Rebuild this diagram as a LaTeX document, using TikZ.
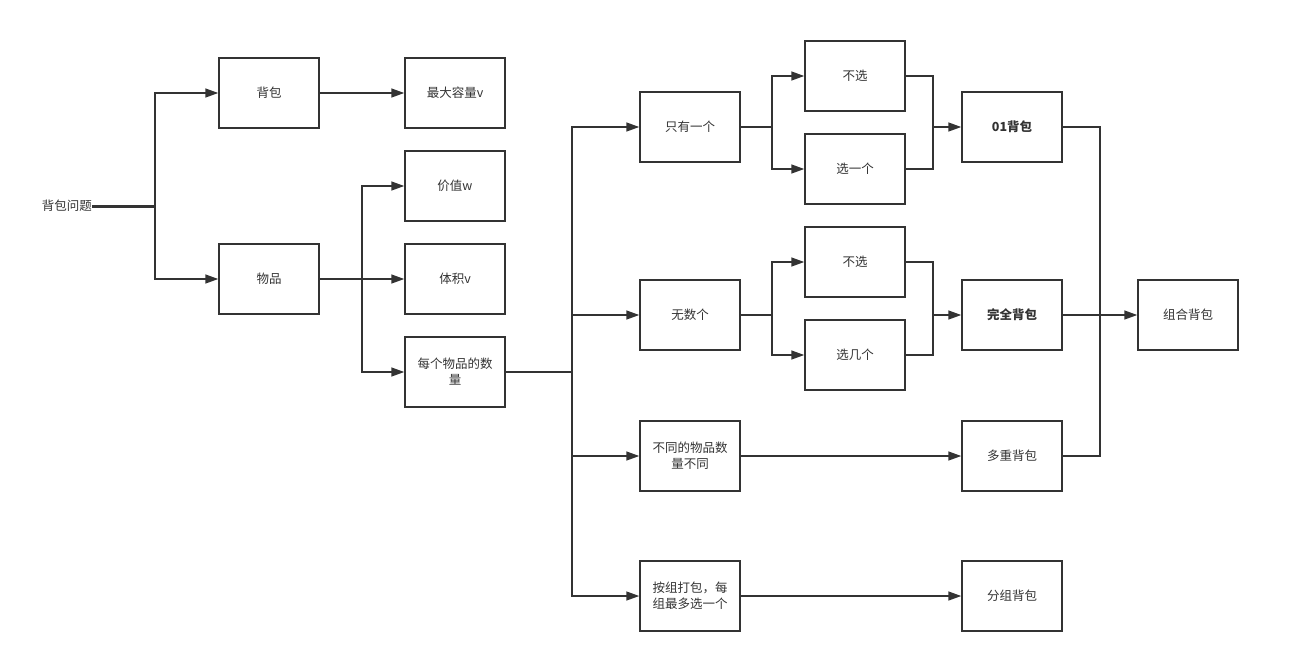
\documentclass[tikz,border=0pt]{standalone}
\usepackage{fontspec}
\newfontfamily\cjk{Noto Sans CJK SC}
\usetikzlibrary{arrows.meta}
\definecolor{ink}{HTML}{333333}
\tikzset{
  box/.style={draw=ink, line width=1.5pt, minimum width=100pt, minimum height=70pt, inner sep=0pt, align=center, text=ink, font=\cjk\fontsize{12.5}{16}\selectfont},
  boldbox/.style={box, font=\cjk\bfseries\fontsize{12.5}{16}\selectfont},
  conn/.style={draw=ink, line width=1.5pt},
  arr/.style={conn, -{Triangle[length=13pt,width=9pt]}},
}
\begin{document}
\begin{tikzpicture}[x=1pt,y=-1pt]
\useasboundingbox (0,0) rectangle (1289,646);
\node[anchor=east, text=ink, font=\cjk\fontsize{12.5}{16}\selectfont, inner sep=0pt] (title) at (92,206) {背包问题};
\node[box] (bag) at (269,93) {背包};
\node[box] (cap) at (455,93) {最大容量v};
\node[box] (item) at (269,279) {物品};
\node[box] (val) at (455,186) {价值w};
\node[box] (vol) at (455,279) {体积v};
\node[box] (cnt) at (455,372) {每个物品的数\\量};
\node[box] (one) at (690,127) {只有一个};
\node[box] (inf) at (690,315) {无数个};
\node[box] (diff) at (690,456) {不同的物品数\\量不同};
\node[box] (grp) at (690,596) {按组打包，每\\组最多选一个};
\node[box] (ns1) at (855,76) {不选};
\node[box] (s1) at (855,169) {选一个};
\node[box] (ns2) at (855,262) {不选};
\node[box] (s2) at (855,355) {选几个};
\node[boldbox] (zero) at (1012,127) {01背包};
\node[boldbox] (full) at (1012,315) {完全背包};
\node[box] (multi) at (1012,456) {多重背包};
\node[box] (gbag) at (1012,596) {分组背包};
\node[box] (combo) at (1188,315) {组合背包};

\coordinate (j1) at (155,206);
\coordinate (j2) at (362,279);
\coordinate (j3) at (572,372);
\coordinate (j4) at (772,127);
\coordinate (j5) at (933,127);
\coordinate (j6) at (772,315);
\coordinate (j7) at (933,315);
\coordinate (j8) at (1100,127);
\coordinate (j9) at (1100,456);

\draw[conn, line width=3pt] (title.east) -- (j1);
\draw[arr] (j1) |- (bag.west);
\draw[arr] (j1) |- (item.west);
\draw[arr] (bag) -- (cap);
\draw[arr] (item) -- (vol);
\draw[arr] (j2) |- (val.west);
\draw[arr] (j2) |- (cnt.west);
\draw[conn] (cnt.east) -- (j3);
\draw[arr] (j3) |- (one.west);
\draw[arr] (j3) |- (inf.west);
\draw[arr] (j3) |- (diff.west);
\draw[arr] (j3) |- (grp.west);
\draw[conn] (one.east) -- (j4);
\draw[arr] (j4) |- (ns1.west);
\draw[arr] (j4) |- (s1.west);
\draw[conn] (ns1.east) -| (j5);
\draw[conn] (s1.east) -| (j5);
\draw[arr] (j5) -- (zero.west);
\draw[conn] (inf.east) -- (j6);
\draw[arr] (j6) |- (ns2.west);
\draw[arr] (j6) |- (s2.west);
\draw[conn] (ns2.east) -| (j7);
\draw[conn] (s2.east) -| (j7);
\draw[arr] (j7) -- (full.west);
\draw[arr] (diff) -- (multi);
\draw[arr] (grp) -- (gbag);
\draw[conn] (zero.east) -- (j8) -- (j9) -- (multi.east);
\draw[arr] (full) -- (combo);
\end{tikzpicture}
\end{document}
